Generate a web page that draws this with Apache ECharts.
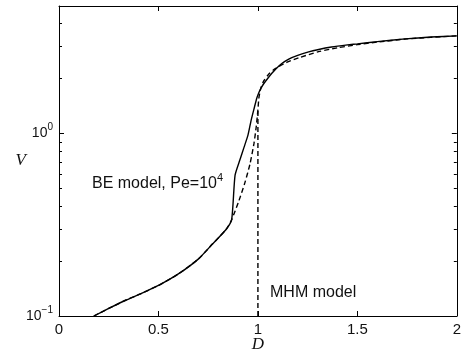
<!DOCTYPE html>
<html>
<head>
<meta charset="utf-8">
<script src="https://cdn.jsdelivr.net/npm/echarts@6/dist/echarts.min.js"></script>
<style>
  html, body { margin: 0; padding: 0; background: #fff; }
  #chart { width: 464px; height: 358px; }
</style>
</head>
<body>
<div id="chart"></div>
<script>
// BE model (solid), Pe = 10^4
const beD = [0.175, 0.25, 0.335, 0.415, 0.5, 0.6, 0.7, 0.77, 0.84, 0.868, 0.885, 0.91, 0.93, 0.95, 0.965, 0.98, 0.995, 1.005, 1.015, 1.03, 1.05, 1.07, 1.09, 1.12, 1.155, 1.2, 1.255, 1.3, 1.37, 1.45, 1.5, 1.6, 1.74, 1.87, 2.0]
const beV = [0.1, 0.11, 0.122, 0.133, 0.147, 0.17, 0.205, 0.247, 0.298, 0.337, 0.59, 0.72, 0.84, 0.98, 1.17, 1.36, 1.57, 1.68, 1.77, 1.88, 2.01, 2.14, 2.26, 2.42, 2.56, 2.68, 2.8, 2.88, 2.98, 3.06, 3.1, 3.19, 3.3, 3.38, 3.43]

// MHM model (dashed): lower branch, then upper branch
const mhmD = [0.175, 0.25, 0.335, 0.415, 0.5, 0.6, 0.7, 0.77, 0.84, 0.868, 0.905, 0.935, 0.96, 0.98, 0.992, 1.0, 1.005, 1.015, 1.03, 1.055, 1.08, 1.105, 1.15, 1.205, 1.305, 1.4, 1.5, 1.6, 1.75, 2.0]
const mhmV = [0.1, 0.11, 0.122, 0.133, 0.147, 0.17, 0.205, 0.247, 0.298, 0.337, 0.43, 0.54, 0.68, 0.88, 1.1, 1.35, 1.57, 1.78, 1.95, 2.12, 2.24, 2.33, 2.47, 2.6, 2.81, 2.95, 3.07, 3.17, 3.3, 3.43]

// MHM vertical part at D = 1
const mhmVertD = [1.0, 1.0]
const mhmVertV = [0.1, 1.35]

const xTicks = [0, 0.5, 1, 1.5, 2]
const yMajor = [0.1, 1]
const yMinor = [0.2, 0.3, 0.4, 0.5, 0.6, 0.7, 0.8, 0.9, 2, 3, 4, 5]

const zip = (a, b) => a.map((v, i) => [v, b[i]])

const chart = echarts.init(document.getElementById('chart'))

const fontSans = 'Liberation Sans'
const axisColor = '#000'

const yBase = (pos, ticks, len, showLine, showLabel) => ({
  type: 'log',
  logBase: 10,
  min: 0.1,
  max: 5,
  position: pos,
  splitLine: { show: false },
  axisLine: { show: showLine, onZero: false, lineStyle: { color: axisColor, width: 1 } },
  axisTick: { show: true, inside: true, length: len, customValues: ticks, lineStyle: { color: axisColor } },
  axisLabel: showLabel ? {
    show: true,
    customValues: yMajor,
    margin: 6,
    formatter: (v) => (v < 0.5 ? '{b|10}{s|−1}' : '{b|10}{s|0}'),
    rich: {
      b: { fontFamily: fontSans, fontSize: 14, color: '#111' },
      s: { fontFamily: fontSans, fontSize: 10, color: '#111', padding: [0, 0, 12, 0] }
    }
  } : { show: false }
})

const option = {
  animation: false,
  backgroundColor: '#fff',
  grid: { left: 59, right: 5, top: 6, bottom: 37, containLabel: false },
  xAxis: [
    {
      type: 'value',
      min: 0,
      max: 2,
      interval: 0.5,
      position: 'bottom',
      splitLine: { show: false },
      axisLine: { show: true, onZero: false, lineStyle: { color: axisColor, width: 1 } },
      axisTick: { show: true, inside: true, length: 5, customValues: xTicks, lineStyle: { color: axisColor } },
      axisLabel: {
        show: true,
        margin: 6,
        fontFamily: fontSans,
        fontSize: 15,
        color: '#111',
        formatter: (v) => String(v)
      },
      name: 'D',
      nameLocation: 'middle',
      nameGap: 20,
      nameMoveOverlap: false,
      nameTextStyle: { fontFamily: 'Liberation Serif', fontStyle: 'italic', fontSize: 17, color: '#111' }
    },
    {
      type: 'value',
      min: 0,
      max: 2,
      interval: 0.5,
      position: 'top',
      splitLine: { show: false },
      axisLine: { show: true, onZero: false, lineStyle: { color: axisColor, width: 1 } },
      axisTick: { show: true, inside: true, length: 5, lineStyle: { color: axisColor } },
      axisLabel: { show: false }
    }
  ],
  yAxis: [
    Object.assign(yBase('left', yMajor, 5, true, true), {
      name: 'V',
      nameLocation: 'middle',
      nameGap: 33,
      nameRotate: 0,
      nameMoveOverlap: false,
      nameTextStyle: { fontFamily: 'Liberation Serif', fontStyle: 'italic', fontSize: 17, color: '#111' }
    }),
    yBase('left', yMinor, 3, false, false),
    yBase('right', yMajor, 5, true, false),
    yBase('right', yMinor, 3, false, false)
  ],
  series: [
    {
      type: 'line',
      xAxisIndex: 0,
      yAxisIndex: 0,
      data: zip(beD, beV),
      showSymbol: false,
      smooth: 0.2,
      lineStyle: { color: '#000', width: 1.4 }
    },
    {
      type: 'line',
      xAxisIndex: 0,
      yAxisIndex: 0,
      data: zip(mhmD, mhmV),
      showSymbol: false,
      smooth: 0.2,
      lineStyle: { color: '#000', width: 1.4, type: [5, 3] }
    },
    {
      type: 'line',
      xAxisIndex: 0,
      yAxisIndex: 0,
      data: zip(mhmVertD, mhmVertV),
      showSymbol: false,
      lineStyle: { color: '#000', width: 1.4, type: [5, 3] }
    }
  ],
  graphic: [
    {
      type: 'text',
      left: 92,
      top: 172,
      style: {
        text: '{t|BE model, Pe=10}{s|4}',
        rich: {
          t: { fontFamily: fontSans, fontSize: 16, fill: '#111' },
          s: { fontFamily: fontSans, fontSize: 11, fill: '#111', padding: [0, 0, 12, 0] }
        }
      }
    },
    {
      type: 'text',
      left: 270,
      top: 285,
      style: { text: 'MHM model', fontFamily: fontSans, fontSize: 16, fill: '#111' }
    }
  ]
}

chart.setOption(option)
</script>
</body>
</html>
